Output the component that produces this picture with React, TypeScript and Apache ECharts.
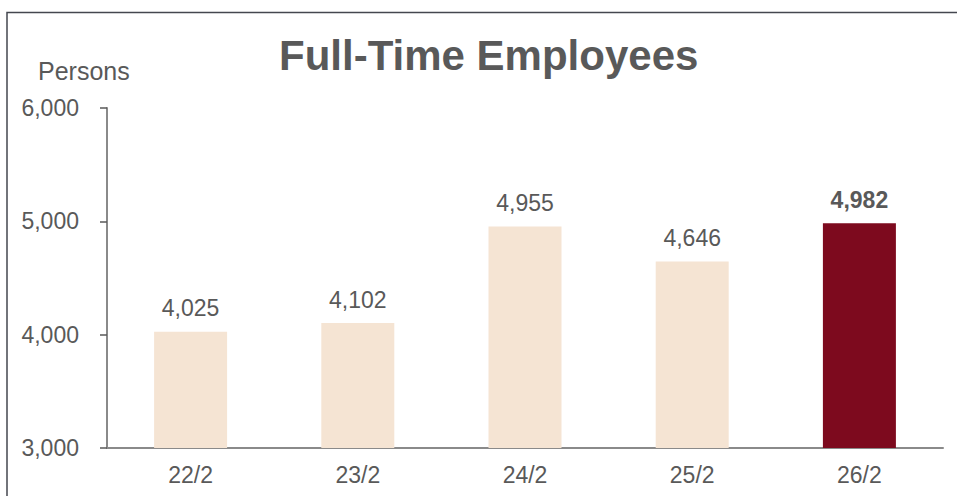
import React, { useEffect, useRef } from "react";
import * as echarts from "echarts";

const categories = ["22/2", "23/2", "24/2", "25/2", "26/2"];
const values = [4025, 4102, 4955, 4646, 4982];
const highlightIndex = 4;
const yTicks = [3000, 4000, 5000, 6000];

const FONT = "'Liberation Sans', Arial, sans-serif";
const TEXT = "#595959";

export default function App() {
  const ref = useRef<HTMLDivElement>(null);
  useEffect(() => {
    if (!ref.current) return;
    const chart = echarts.init(ref.current, undefined, { renderer: "svg" });
    chart.setOption({
      animation: false,
      backgroundColor: "#ffffff",
      title: {
        text: "Full-Time Employees",
        left: 279,
        top: 34,
        padding: 0,
        textStyle: { fontFamily: FONT, fontSize: 42, fontWeight: "bold", color: TEXT, lineHeight: 42 },
      },
      graphic: [
        {
          type: "rect",
          shape: { x: 7, y: 12.5, width: 1200, height: 800 },
          style: { fill: "none", stroke: "#44474f", lineWidth: 1.5 },
          silent: true,
        },
        {
          type: "text",
          left: 38,
          top: 58,
          style: { text: "Persons", fontFamily: FONT, fontSize: 25, fill: TEXT },
        },
      ],
      grid: { left: 107, right: 14, top: 108, bottom: 48, containLabel: false },
      xAxis: {
        type: "category",
        data: categories,
        axisLine: { show: true, lineStyle: { color: "#8a8a8a", width: 2 } },
        axisTick: { show: false },
        axisLabel: { fontFamily: FONT, fontSize: 23, color: TEXT, margin: 15 },
      },
      yAxis: {
        type: "value",
        min: yTicks[0],
        max: yTicks[yTicks.length - 1],
        interval: 1000,
        splitLine: { show: false },
        axisLine: { show: true, lineStyle: { color: "#8a8a8a", width: 2 } },
        axisTick: { show: true, length: 7, lineStyle: { color: "#595959", width: 1.5 } },
        axisLabel: {
          fontFamily: FONT,
          fontSize: 23,
          color: TEXT,
          margin: 28,
          formatter: (v: number) => v.toLocaleString("en-US"),
        },
      },
      series: [
        {
          type: "bar",
          barWidth: 73,
          data: values.map((v, i) => ({
            value: v,
            itemStyle: { color: i === highlightIndex ? "#7d0a1e" : "#f5e4d3" },
            label: i === highlightIndex ? { fontWeight: "bold" } : undefined,
          })),
          label: {
            show: true,
            position: "top",
            distance: 12,
            fontFamily: FONT,
            fontSize: 23,
            color: TEXT,
            formatter: (p: any) => Number(p.value).toLocaleString("en-US"),
          },
        },
      ],
    });
    return () => chart.dispose();
  }, []);
  return (
    <div
      ref={ref}
      style={{ position: "fixed", left: 0, top: 0, width: 957, height: 496 }}
    />
  );
}
